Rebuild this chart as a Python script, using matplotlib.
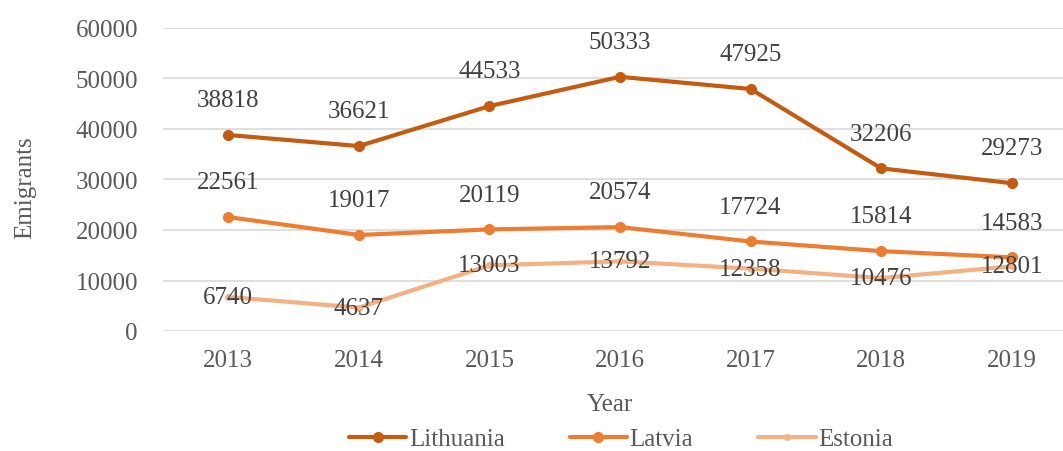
import matplotlib
matplotlib.use("Agg")
import matplotlib.pyplot as plt

years = ["2013", "2014", "2015", "2016", "2017", "2018", "2019"]
lithuania = [38818, 36621, 44533, 50333, 47925, 32206, 29273]
latvia = [22561, 19017, 20119, 20574, 17724, 15814, 14583]
estonia = [6740, 4637, 13003, 13792, 12358, 10476, 12801]

plt.rcParams['font.family'] = ['Liberation Serif', 'DejaVu Serif']

W, H = 1063, 452
fig = plt.figure(figsize=(W / 100, H / 100), dpi=100)
ax = fig.add_axes([163 / W, (H - 332) / H, (1077 - 163) / W, 303 / H])

x = list(range(len(years)))
series = [
    ("Lithuania", lithuania, "#C55A11", 7, "above"),
    ("Latvia", latvia, "#ED7D31", 7, "above"),
    ("Estonia", estonia, "#F4B183", 4, "center"),
]
for name, vals, col, ms, pos in series:
    ax.plot(x, vals, color=col, lw=3, marker='o', ms=ms, label=name,
            solid_capstyle='round', zorder=3)

for name, vals, col, ms, pos in series:
    for xi, v in zip(x, vals):
        dy = 25 if pos == "above" else 0
        ax.annotate(str(v), (xi, v), xytext=(0, dy), textcoords='offset points',
                    ha='center', va='center', fontsize=18, color='#404040', zorder=5)

ax.set_xlim(-0.5, 6.5)
ax.set_ylim(0, 60000)
ax.set_yticks(range(0, 60001, 10000))
ax.set_xticks(x)
ax.set_xticklabels(years)
ax.grid(axis='y', color='#D9D9D9', lw=1.2)
ax.set_axisbelow(True)
for s in ax.spines.values():
    s.set_visible(False)
ax.tick_params(axis='both', length=0, labelsize=18, labelcolor='#595959')
ax.tick_params(axis='y', pad=18)
ax.tick_params(axis='x', pad=13)

fig.text(25 / W, 1 - 188 / H, "Emigrants", rotation=90, ha='center', va='center',
         fontsize=18, color='#595959')
fig.text(610 / W, 1 - 405 / H, "Year", ha='center', va='center',
         fontsize=18, color='#595959')

fig.legend(loc='center', bbox_to_anchor=(621 / W, 1 - 440 / H), ncol=3, frameon=False,
           fontsize=18, labelcolor='#595959', handlelength=2.3, columnspacing=2.6,
           handletextpad=0.1)

fig.savefig("out.png", dpi=100)
